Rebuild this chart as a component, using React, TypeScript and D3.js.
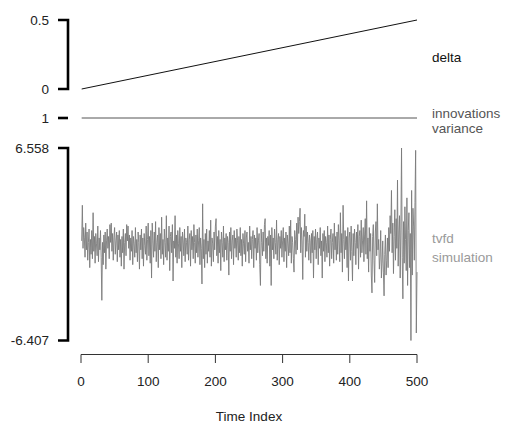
import React from "react";
import * as d3 from "d3";

// ---- data ----
const timeDomain: [number, number] = [0, 500];
const xTicks = [0, 100, 200, 300, 400, 500];

const deltaTime = [1, 500];
const deltaValues = [0, 0.5];
const deltaTicks = [0, 0.5];

const varianceTime = [1, 500];
const varianceValues = [1, 1];
const varianceTicks = [1];

const simValues = [
  0.3, 2.7, -0.2, 1.2, 0.5, -0.8, 1.5, -0.3, 0.9, -1.0, 0.2, 1.1, -1.5, 0.4, -0.6, 1.0, -0.9, 2.2, -0.4, 0.6,
  -1.2, 0.8, 0.1, -0.7, 1.3, -1.1, 0.5, -0.3, 1.0, -0.8, -3.7, 0.2, -1.3, 0.7, -0.5, 0.9, -1.6, 0.3, 1.1, -0.2,
  0.6, -0.9, 1.4, 0.2, 1.5, -0.4, 0.8, -1.0, 0.5, 1.2, -0.6, 0.3, 0.9, -1.1, 0.7, -0.3, 1.0, -0.8, 0.4, -1.4,
  0.6, -0.5, 1.1, -1.6, 0.2, 0.8, -0.7, 1.4, 0.3, 1.3, -0.2, 0.7, -1.0, 0.5, -0.4, 1.0, -1.3, 0.6, 0.1, -0.8,
  1.2, -0.5, 0.4, -1.1, 0.9, 0.2, -1.6, 0.7, -0.3, 1.1, -0.9, 0.5, -1.4, 0.8, 0.0, -0.6, 1.3, -1.0, 0.4, 1.5,
  -0.7, 0.6, -1.2, 1.0, -2.2, 1.5, 0.3, -0.8, 0.9, -0.4, 1.6, -1.1, 0.2, 0.7, -1.5, 1.2, -0.3, 0.8, -0.9, 1.9,
  -0.6, 0.4, -1.3, 1.1, 0.2, -0.8, 2.0, -1.0, 0.5, -0.4, 1.3, -1.7, 0.6, 0.9, -0.5, 1.4, -2.4, 0.3, -0.2, 2.0,
  -0.8, 0.7, -1.2, 1.0, 0.1, -0.9, 1.2, -0.4, 0.6, -1.5, 0.9, 0.3, -0.7, 1.1, -1.1, 0.5, 0.2, -0.6, 1.3, -1.0,
  0.4, 0.8, -1.4, 1.0, -0.3, 0.6, -0.9, 1.4, 0.2, -1.2, 0.7, -0.5, 1.1, -0.8, 0.3, 1.2, -1.3, 0.5, -0.2, -2.6,
  2.8, -0.9, 0.4, -1.5, 0.8, -0.6, 1.1, -1.2, 0.3, -0.4, 1.0, -0.8, 1.7, -1.4, 0.5, 0.1, -1.1, 0.9, -0.3, 1.3,
  1.8, -0.7, 0.6, -1.2, 1.0, -0.5, 0.4, -1.7, 0.9, 0.2, -0.8, 1.3, -1.1, 0.5, -0.3, 0.8, -1.0, 0.6, 0.2, -2.0,
  0.9, -0.4, 1.2, -0.9, 0.3, 0.7, -1.3, 1.0, -0.2, 0.5, -0.8, 1.1, 0.3, -1.0, 0.6, -0.5, 1.2, -0.7, 0.4, -1.4,
  0.8, 0.1, -0.6, 1.0, -1.1, 0.5, 0.9, -0.4, 0.2, -1.2, 1.3, -0.3, 0.6, -0.9, 0.4, 1.0, -1.5, 0.7, -0.2, 0.5,
  -1.0, 1.2, -0.5, 0.3, 0.8, -1.3, -2.7, 1.1, 0.2, -0.7, 0.9, -0.4, 1.4, 1.8, -0.9, 0.5, -1.2, 0.6, 0.0, 1.0,
  -1.4, 0.7, -2.7, 1.2, -0.3, 0.5, -0.9, 1.1, 0.2, -0.6, 1.7, -1.0, 0.4, 0.8, -1.3, 0.6, -0.2, 1.0, -0.8, 0.3,
  1.2, -1.1, 0.5, -0.4, 0.9, -1.5, 0.7, 0.1, -0.7, 1.3, -0.5, 1.7, -1.2, 0.6, 0.2, -0.9, -1.8, 1.0, 0.4, -0.6,
  1.5, -0.3, 1.9, 0.8, 1.6, 2.5, -0.5, 1.2, 0.3, -2.3, 1.0, 0.6, 2.1, -0.8, 1.3, -0.4, 0.9, 0.2, -1.0, 0.7,
  0.3, -1.2, 0.8, -0.5, 1.0, -2.2, 0.6, -0.3, 1.1, -0.9, 0.4, 0.9, -1.3, 0.5, -0.2, 1.2, -0.7, 0.3, -2.2, 0.8,
  -0.4, 1.0, -1.1, 0.6, 0.2, -0.8, 1.3, -0.5, 0.7, -1.4, 0.4, 1.1, -0.9, 0.2, 0.8, -1.2, 1.5, -0.3, 0.6, -1.0,
  0.9, -0.6, 1.4, 0.3, -1.1, 2.2, -0.5, 0.8, -1.8, 2.7, 0.4, -0.9, 1.0, -0.3, 0.6, -1.5, 1.2, -2.4, 0.5, 0.9,
  -1.0, 1.3, -0.4, -2.4, 0.8, -0.7, 1.1, 0.2, -1.3, 0.9, -0.2, 1.4, -1.6, 0.6, 1.0, -0.8, 1.7, -0.5, 0.3, 1.2,
  -1.1, 0.7, 1.8, -0.6, 3.0, -0.9, 0.5, -1.8, 1.2, -0.4, 0.8, -2.0, -3.2, 0.6, 1.4, -1.0, -2.5, 0.9, 1.6, -0.7,
  2.8, -0.3, 0.4, -1.6, -0.8, 1.0, -2.2, -1.2, 0.3, -1.8, -3.4, -0.6, 0.7, -2.0, -1.0, 0.5, -1.5, 1.2, -0.4, 2.0,
  0.8, 3.7, -0.5, 1.5, -1.9, 0.6, 2.4, -1.0, 1.8, -0.2, 4.4, -1.4, 0.9, 2.0, -2.2, 1.1, 6.558, -0.8, -3.6, 1.6,
  -1.2, 2.6, 0.4, -1.7, 3.2, -2.7, 1.0, 2.2, -1.5, 0.8, -6.407, 3.7, -2.0, 2.5, 1.3, -1.0, 2.9, 6.4, -5.9, -1.8,
];
const simTicks = [6.558, -6.407];

const labels = {
  delta: ["delta"],
  variance: ["innovations", "variance"],
  sim: ["tvfd", "simulation"],
};

// ---- layout ----
const W = 507;
const H = 423;
const FONT = "'Liberation Sans', Arial, sans-serif";
const xLeft = 81;
const xRight = 417;
const bracketX = 68;
const labelX = 49;
const rightLabelX = 432;

export default function App() {
  const x = d3.scaleLinear().domain(timeDomain).range([xLeft, xRight]);
  const yDelta = d3.scaleLinear().domain([0, 0.5]).range([89, 20]);
  const yVar = d3.scaleLinear().domain([0, 2]).range([158, 78]);
  const ext = d3.extent(simValues) as [number, number];
  const ySim = d3.scaleLinear().domain(ext).range([340.5, 148]);

  const deltaLine = d3
    .line<number>()
    .x((_, i) => x(deltaTime[i]))
    .y((d) => yDelta(d))(deltaValues);
  const varLine = d3
    .line<number>()
    .x((_, i) => x(varianceTime[i]))
    .y((d) => yVar(d))(varianceValues);
  const simLine = d3
    .line<number>()
    .x((_, i) => x(i + 1))
    .y((d) => ySim(d))(simValues);

  const bracket = (y0: number, y1: number) => (
    <path
      d={`M${bracketX - 10},${y0}H${bracketX}V${y1}H${bracketX - 10}`}
      fill="none"
      stroke="#000"
      strokeWidth={2.6}
    />
  );

  return (
    <svg
      width={W}
      height={H}
      style={{ position: "absolute", left: 0, top: 0, background: "#fff" }}
      fontFamily={FONT}
      fontSize={13.5}
    >
      <rect width={W} height={H} fill="#fff" />

      {/* delta panel */}
      {bracket(yDelta(0.5), yDelta(0))}
      {deltaTicks.map((t) => (
        <text key={t} x={labelX} y={yDelta(t)} dy="0.35em" textAnchor="end" fill="#222">
          {t}
        </text>
      ))}
      <path d={deltaLine || ""} fill="none" stroke="#111" strokeWidth={1} />
      <text x={rightLabelX} y={57} dy="0.35em" fill="#111">
        {labels.delta[0]}
      </text>

      {/* variance panel */}
      {varianceTicks.map((t) => (
        <g key={t}>
          <line x1={bracketX - 10} x2={bracketX} y1={yVar(t)} y2={yVar(t)} stroke="#000" strokeWidth={2.6} />
          <text x={labelX} y={yVar(t)} dy="0.35em" textAnchor="end" fill="#222">
            {t}
          </text>
        </g>
      ))}
      <path d={varLine || ""} fill="none" stroke="#555" strokeWidth={1} />
      {labels.variance.map((s, i) => (
        <text key={s} x={rightLabelX} y={113 + i * 15} dy="0.35em" fill="#555">
          {s}
        </text>
      ))}

      {/* simulation panel */}
      {bracket(ySim(ext[1]), ySim(ext[0]))}
      {simTicks.map((t) => (
        <text key={t} x={labelX} y={ySim(t)} dy="0.35em" textAnchor="end" fill="#222">
          {t}
        </text>
      ))}
      <path d={simLine || ""} fill="none" stroke="#7a7a7a" strokeWidth={0.9} />
      {labels.sim.map((s, i) => (
        <text key={s} x={rightLabelX} y={238 + i * 19} dy="0.35em" fill="#9a9a9a">
          {s}
        </text>
      ))}

      {/* x axis */}
      <line x1={x(0)} x2={x(500)} y1={354.5} y2={354.5} stroke="#333" strokeWidth={1} />
      {xTicks.map((t) => (
        <g key={t}>
          <line x1={x(t)} x2={x(t)} y1={354.5} y2={363} stroke="#333" strokeWidth={1} />
          <text x={x(t)} y={381} dy="0.35em" textAnchor="middle" fill="#222">
            {t}
          </text>
        </g>
      ))}
      <text x={(x(0) + x(500)) / 2} y={416} dy="0.35em" textAnchor="middle" fill="#222" fontSize={13.5}>
        Time Index
      </text>
    </svg>
  );
}
